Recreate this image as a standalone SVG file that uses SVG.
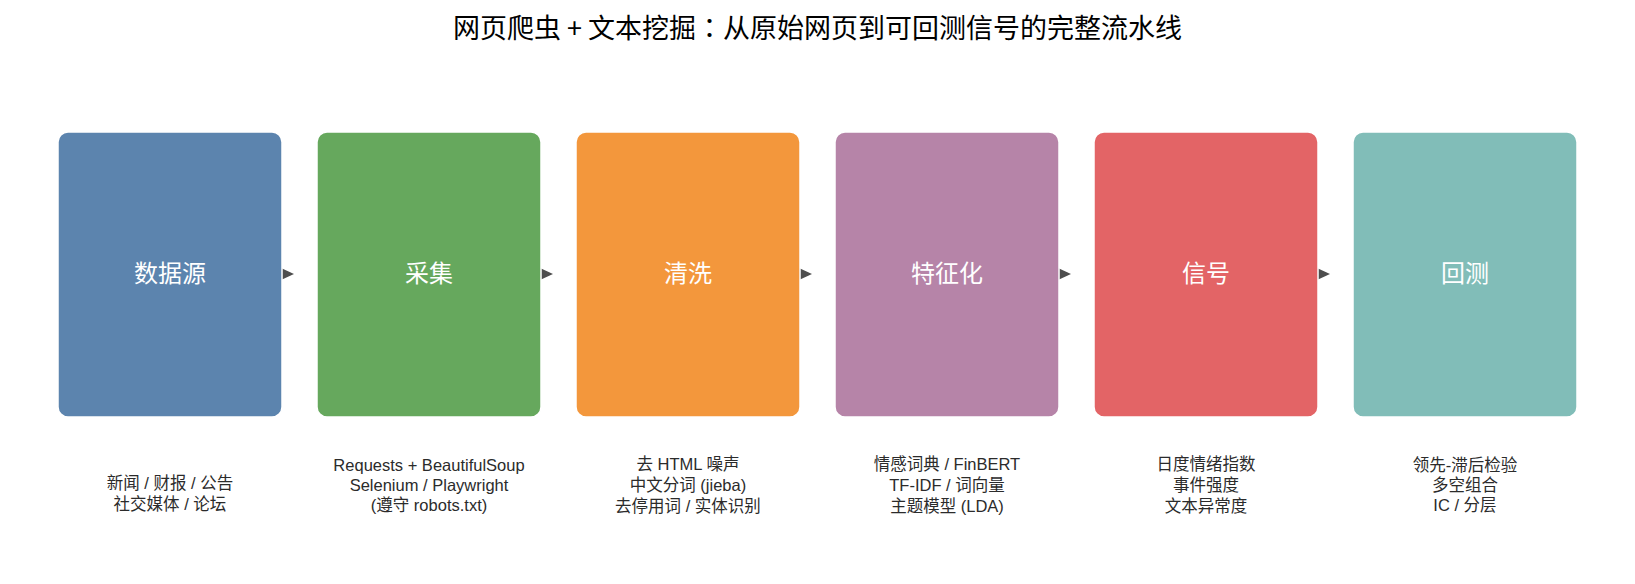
<svg xmlns="http://www.w3.org/2000/svg" width="1635" height="584" viewBox="0 0 1635 584">
<style>
.box{stroke:#ffffff;stroke-width:1.5;fill-opacity:0.92}
.lbl{font-family:"Noto Sans CJK SC","Liberation Sans",sans-serif;font-size:24px;fill:#ffffff;text-anchor:middle}
.desc{font-family:"Liberation Sans","Noto Sans CJK SC",sans-serif;font-size:16.5px;fill:#2b2b2b;text-anchor:middle}
.title{font-family:"Noto Sans CJK SC","Liberation Sans",sans-serif;font-size:27px;fill:#000000;text-anchor:middle}
.arr{fill:#4d4d4d}
</style>
<rect width="1635" height="584" fill="#ffffff"/>
<text class="title" x="817.5" y="38">网页爬虫 + 文本挖掘<tspan font-family="Noto Sans CJK JP, sans-serif">：</tspan>从原始网页到可回测信号的完整流水线</text>
<g id="connectors">
<polygon class="arr" points="281,268 294,274 281,280"/>
<polygon class="arr" points="540,268 553,274 540,280"/>
<polygon class="arr" points="799,268 812,274 799,280"/>
<polygon class="arr" points="1058,268 1071,274 1058,280"/>
<polygon class="arr" points="1317,268 1330,274 1317,280"/>
</g>
<g id="node-source">
<rect class="box" x="58" y="132" width="224" height="285" rx="10" fill="#4E79A7"/>
<text class="lbl" x="170" y="282">数据源</text>
<text class="desc" x="170" y="489">新闻 / 财报 / 公告</text>
<text class="desc" x="170" y="510">社交媒体 / 论坛</text>
</g>
<g id="node-collect">
<rect class="box" x="317" y="132" width="224" height="285" rx="10" fill="#59A14F"/>
<text class="lbl" x="429" y="282">采集</text>
<text class="desc" x="429" y="471">Requests + BeautifulSoup</text>
<text class="desc" x="429" y="491">Selenium / Playwright</text>
<text class="desc" x="429" y="511">(遵守 robots.txt)</text>
</g>
<g id="node-clean">
<rect class="box" x="576" y="132" width="224" height="285" rx="10" fill="#F28E2B"/>
<text class="lbl" x="688" y="282">清洗</text>
<text class="desc" x="688" y="470">去 HTML 噪声</text>
<text class="desc" x="688" y="491">中文分词 (jieba)</text>
<text class="desc" x="688" y="512">去停用词 / 实体识别</text>
</g>
<g id="node-feature">
<rect class="box" x="835" y="132" width="224" height="285" rx="10" fill="#B07AA1"/>
<text class="lbl" x="947" y="282">特征化</text>
<text class="desc" x="947" y="470">情感词典 / FinBERT</text>
<text class="desc" x="947" y="491">TF-IDF / 词向量</text>
<text class="desc" x="947" y="512">主题模型 (LDA)</text>
</g>
<g id="node-signal">
<rect class="box" x="1094" y="132" width="224" height="285" rx="10" fill="#E15759"/>
<text class="lbl" x="1206" y="282">信号</text>
<text class="desc" x="1206" y="470">日度情绪指数</text>
<text class="desc" x="1206" y="491">事件强度</text>
<text class="desc" x="1206" y="512">文本异常度</text>
</g>
<g id="node-backtest">
<rect class="box" x="1353" y="132" width="224" height="285" rx="10" fill="#76B7B2"/>
<text class="lbl" x="1465" y="282">回测</text>
<text class="desc" x="1465" y="471">领先-滞后检验</text>
<text class="desc" x="1465" y="491">多空组合</text>
<text class="desc" x="1465" y="511">IC / 分层</text>
</g>
</svg>
